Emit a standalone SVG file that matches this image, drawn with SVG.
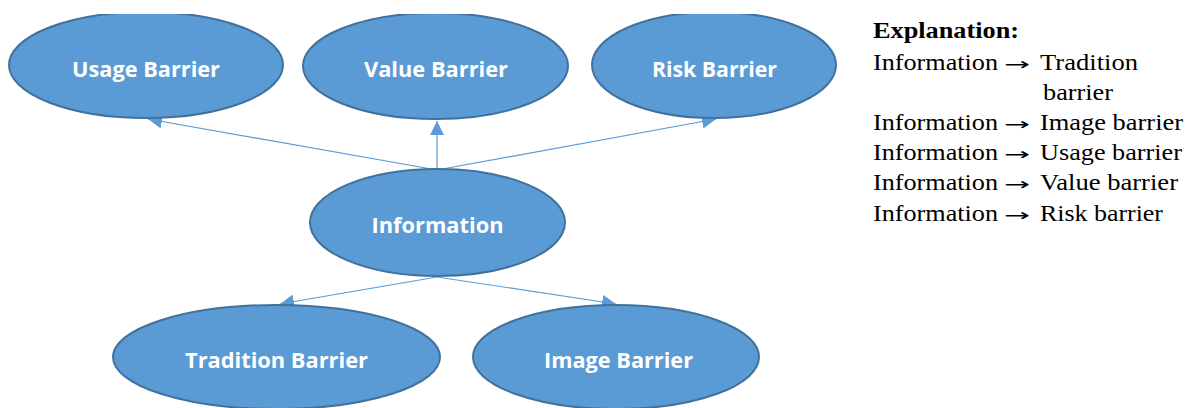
<svg xmlns="http://www.w3.org/2000/svg" width="1186" height="408" viewBox="0 0 1186 408">
<defs>
<style>
.node{fill:#5b9bd5;stroke:#41719c;stroke-width:2}
.lbl{font-family:"Open Sans","Liberation Sans",sans-serif;font-weight:bold;font-size:22px;fill:#ffffff;text-anchor:middle}
.conn{stroke:#5b9bd5;stroke-width:1.2;fill:none}
.exp{font-family:"Liberation Serif","Times New Roman",serif;font-size:24px;fill:#000000}
.arr{font-family:"DejaVu Sans",sans-serif;font-size:17px}
</style>
<marker id="ah" viewBox="0 0 14 14" refX="14" refY="7" markerWidth="14" markerHeight="14" markerUnits="userSpaceOnUse" orient="auto">
<path d="M0,0 L14,7 L0,14 Z" fill="#5b9bd5"/>
</marker>
<clipPath id="topclip"><rect x="0" y="14" width="1186" height="394"/></clipPath>
</defs>
<rect width="1186" height="408" fill="#ffffff"/>
<g id="connectors">
<line class="conn" x1="437" y1="170" x2="148" y2="119" marker-end="url(#ah)"/>
<line class="conn" x1="437" y1="170" x2="437" y2="121" marker-end="url(#ah)"/>
<line class="conn" x1="437" y1="170" x2="716" y2="119" marker-end="url(#ah)"/>
<line class="conn" x1="437" y1="277" x2="280" y2="304" marker-end="url(#ah)"/>
<line class="conn" x1="437" y1="277" x2="616" y2="304" marker-end="url(#ah)"/>
</g>
<g id="usage" clip-path="url(#topclip)">
<ellipse class="node" cx="146" cy="65" rx="137" ry="53"/>
<text class="lbl" x="146" y="77" textLength="148" lengthAdjust="spacingAndGlyphs">Usage Barrier</text>
</g>
<g id="value" clip-path="url(#topclip)">
<ellipse class="node" cx="435.5" cy="66" rx="132.5" ry="53"/>
<text class="lbl" x="436" y="77" textLength="144" lengthAdjust="spacingAndGlyphs">Value Barrier</text>
</g>
<g id="risk" clip-path="url(#topclip)">
<ellipse class="node" cx="714" cy="65" rx="122" ry="53"/>
<text class="lbl" x="714.5" y="77" textLength="125" lengthAdjust="spacingAndGlyphs">Risk Barrier</text>
</g>
<g id="information">
<ellipse class="node" cx="437.5" cy="222.5" rx="127.5" ry="53.5"/>
<text class="lbl" x="437.5" y="233" textLength="132" lengthAdjust="spacingAndGlyphs">Information</text>
</g>
<g id="tradition">
<ellipse class="node" cx="276.5" cy="357" rx="163.5" ry="52"/>
<text class="lbl" x="276.5" y="368" textLength="183" lengthAdjust="spacingAndGlyphs">Tradition Barrier</text>
</g>
<g id="image">
<ellipse class="node" cx="616" cy="357" rx="143" ry="52"/>
<text class="lbl" x="618.5" y="368" textLength="149" lengthAdjust="spacingAndGlyphs">Image Barrier</text>
</g>
<g id="explanation">
<text class="exp" x="873" y="37.5" font-weight="bold" textLength="146" lengthAdjust="spacingAndGlyphs">Explanation:</text>
<text class="exp" y="69.5"><tspan x="873" textLength="125" lengthAdjust="spacingAndGlyphs">Information</tspan><tspan class="arr" x="1004" textLength="26" lengthAdjust="spacingAndGlyphs">→</tspan><tspan x="1040" textLength="98" lengthAdjust="spacingAndGlyphs">Tradition</tspan></text>
<text class="exp" x="1043" y="100" textLength="70" lengthAdjust="spacingAndGlyphs">barrier</text>
<text class="exp" y="130"><tspan x="873" textLength="125" lengthAdjust="spacingAndGlyphs">Information</tspan><tspan class="arr" x="1004" textLength="26" lengthAdjust="spacingAndGlyphs">→</tspan><tspan x="1040" textLength="143" lengthAdjust="spacingAndGlyphs">Image barrier</tspan></text>
<text class="exp" y="160"><tspan x="873" textLength="125" lengthAdjust="spacingAndGlyphs">Information</tspan><tspan class="arr" x="1004" textLength="26" lengthAdjust="spacingAndGlyphs">→</tspan><tspan x="1040" textLength="142" lengthAdjust="spacingAndGlyphs">Usage barrier</tspan></text>
<text class="exp" y="190"><tspan x="873" textLength="125" lengthAdjust="spacingAndGlyphs">Information</tspan><tspan class="arr" x="1004" textLength="26" lengthAdjust="spacingAndGlyphs">→</tspan><tspan x="1040" textLength="138" lengthAdjust="spacingAndGlyphs">Value barrier</tspan></text>
<text class="exp" y="220.5"><tspan x="873" textLength="125" lengthAdjust="spacingAndGlyphs">Information</tspan><tspan class="arr" x="1004" textLength="26" lengthAdjust="spacingAndGlyphs">→</tspan><tspan x="1040" textLength="123" lengthAdjust="spacingAndGlyphs">Risk barrier</tspan></text>
</g>
</svg>
